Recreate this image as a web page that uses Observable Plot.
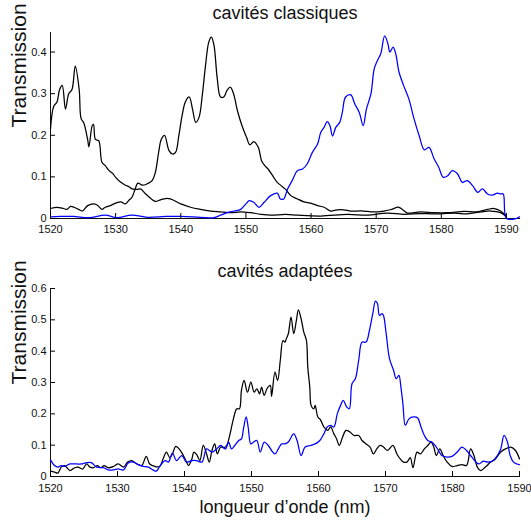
<!DOCTYPE html>
<html><head><meta charset="utf-8">
<script src="https://cdn.jsdelivr.net/npm/d3@7"></script>
<script src="https://cdn.jsdelivr.net/npm/@observablehq/plot@0.6"></script>
<style>
html,body{margin:0;padding:0;background:#fff;}
#chart svg{display:block;}
</style></head><body><div id="chart"></div>
<script>
// ---- tick labels and text ----
const xTicks = [1520, 1530, 1540, 1550, 1560, 1570, 1580, 1590];
const yTicksTop = [0, 0.1, 0.2, 0.3, 0.4];
const yTicksBottom = [0, 0.1, 0.2, 0.3, 0.4, 0.5, 0.6];
const titleTop = "cavités classiques";
const titleBottom = "cavités adaptées";
const yLabel = "Transmission";
const xLabel = "longueur d\u2019onde (nm)";

// ---- top panel: cavités classiques [wavelength nm, transmission] ----
const classiqueNoirA = [[1520,0.215],[1520.5,0.27],[1521.0,0.28],[1521.4,0.31],[1521.8,0.32],[1522.3,0.263],[1522.8,0.30],[1523.3,0.31],[1523.8,0.366],[1524.4,0.31],[1524.7,0.24],[1525.1,0.23],[1525.7,0.19],[1525.9,0.172],[1526.4,0.223],[1526.6,0.226],[1526.9,0.19],[1527.4,0.187],[1527.9,0.135],[1528.4,0.127],[1529.0,0.115],[1529.5,0.109],[1530.0,0.099],[1530.8,0.087],[1531.5,0.08],[1532.0,0.077],[1532.5,0.071],[1533.3,0.07],[1533.8,0.071],[1534.6,0.059],[1535.4,0.048],[1536.1,0.041],[1536.9,0.045],[1537.7,0.048],[1538.4,0.047],[1540,0.035],[1541.5,0.027],[1543,0.022],[1544.6,0.018],[1546.1,0.016],[1547.7,0.014],[1549.2,0.016],[1550.7,0.014],[1552.3,0.010],[1553.8,0.008],[1556.1,0.01],[1558,0.008],[1561.5,0.006],[1565.6,0.010],[1568.6,0.008],[1571.7,0.013],[1574.3,0.010],[1576.8,0.012],[1578.9,0.011],[1582,0.013],[1584,0.011],[1586.1,0.016],[1587.6,0.018],[1589.1,0.014],[1590,0.004]];
const classiqueNoirB = [[1520,0.024],[1521,0.027],[1522,0.024],[1522.5,0.022],[1523.1,0.029],[1523.6,0.027],[1524.3,0.022],[1524.9,0.018],[1525.7,0.031],[1526.7,0.035],[1527.2,0.032],[1527.9,0.022],[1528.4,0.027],[1529.2,0.031],[1530.0,0.037],[1530.8,0.040],[1531.5,0.035],[1532.0,0.043],[1532.5,0.051],[1533.0,0.071],[1533.4,0.085],[1534.1,0.080],[1534.8,0.083],[1535.6,0.091],[1536.1,0.111],[1536.6,0.159],[1537.0,0.19],[1537.5,0.20],[1538.2,0.163],[1538.7,0.155],[1539.2,0.159],[1539.7,0.199],[1540.2,0.247],[1540.7,0.28],[1541.3,0.292],[1541.8,0.263],[1542.3,0.231],[1542.8,0.243],[1543.3,0.296],[1543.8,0.368],[1544.3,0.424],[1544.7,0.436],[1545.1,0.416],[1545.6,0.336],[1546.1,0.292],[1546.6,0.292],[1547.1,0.308],[1547.6,0.316],[1548.1,0.30],[1548.7,0.259],[1549.4,0.223],[1550.1,0.195],[1550.6,0.177],[1551.2,0.185],[1551.9,0.171],[1552.4,0.139],[1552.9,0.127],[1553.4,0.119],[1554.1,0.103],[1554.8,0.087],[1555.4,0.079],[1556.1,0.07],[1556.9,0.055],[1557.9,0.047],[1558.9,0.040],[1559.9,0.037],[1561,0.031],[1562,0.027],[1563,0.018],[1564,0.021],[1565,0.021],[1566.1,0.018],[1567.1,0.018],[1568.1,0.018],[1569.2,0.016],[1570.2,0.016],[1571.2,0.018],[1572.2,0.021],[1573.5,0.027],[1574.3,0.018],[1574.8,0.013],[1576.8,0.016],[1578.9,0.014],[1581,0.014],[1583.5,0.017],[1585.5,0.016],[1587.1,0.022],[1588.1,0.024],[1589.1,0.018],[1590,0.006]];
const classiqueBleu = [[1520,0.004],[1521.5,0.005],[1523.5,0.005],[1526,0.002],[1528.4,0.008],[1530.2,0.002],[1532.5,0.008],[1534.9,0.003],[1537.7,0.005],[1540,0.005],[1543,0.003],[1545.1,0.002],[1546.1,0.008],[1547.1,0.014],[1548.2,0.018],[1549.2,0.022],[1550,0.035],[1550.5,0.043],[1551.2,0.039],[1552,0.027],[1552.8,0.039],[1553.8,0.055],[1554.8,0.061],[1555.3,0.047],[1555.8,0.047],[1556.4,0.071],[1557.1,0.091],[1557.9,0.115],[1558.7,0.119],[1559.4,0.131],[1560.2,0.159],[1561,0.179],[1561.5,0.207],[1562,0.219],[1562.5,0.233],[1562.9,0.223],[1563.3,0.198],[1563.8,0.219],[1564.4,0.231],[1564.8,0.255],[1565.3,0.292],[1566.1,0.297],[1566.7,0.276],[1567.4,0.255],[1568.0,0.223],[1568.5,0.263],[1569.2,0.30],[1569.7,0.36],[1570.2,0.38],[1570.7,0.396],[1571.3,0.439],[1571.8,0.42],[1572.1,0.40],[1572.6,0.412],[1573.0,0.396],[1573.5,0.352],[1574.2,0.32],[1575.0,0.288],[1575.8,0.24],[1576.6,0.199],[1577.4,0.165],[1578.1,0.171],[1578.9,0.143],[1579.6,0.123],[1580.3,0.099],[1581,0.103],[1581.7,0.115],[1582.5,0.107],[1583.2,0.087],[1584,0.091],[1584.8,0.079],[1585.6,0.063],[1586.3,0.071],[1587.1,0.059],[1587.8,0.056],[1588.6,0.061],[1589.1,0.059],[1589.5,0.059],[1590,0.0],[1591.5,0.0],[1592,0.004]];

// ---- bottom panel: cavités adaptées ----
const adapteeNoir = [[1520,0.017],[1520.6,0.014],[1521.1,0.011],[1521.6,0.030],[1522.1,0.035],[1522.9,0.019],[1523.6,0.028],[1524.1,0.030],[1524.8,0.024],[1525.4,0.040],[1525.9,0.030],[1526.4,0.028],[1527,0.035],[1527.5,0.028],[1528,0.035],[1528.6,0.028],[1529.4,0.032],[1530.1,0.040],[1530.9,0.030],[1531.5,0.046],[1532.1,0.051],[1532.9,0.040],[1533.6,0.035],[1534.3,0.064],[1534.8,0.040],[1535.6,0.032],[1536.3,0.032],[1536.8,0.056],[1537.3,0.078],[1537.8,0.060],[1538.2,0.072],[1538.7,0.096],[1539.2,0.088],[1539.7,0.072],[1540.2,0.051],[1540.6,0.035],[1541.1,0.056],[1541.4,0.078],[1541.9,0.067],[1542.3,0.051],[1542.8,0.099],[1543.3,0.072],[1543.7,0.046],[1544.1,0.083],[1544.5,0.104],[1544.9,0.072],[1545.4,0.094],[1545.9,0.092],[1546.3,0.099],[1546.8,0.136],[1547.3,0.184],[1547.8,0.216],[1548.2,0.216],[1548.5,0.275],[1548.9,0.307],[1549.4,0.269],[1549.9,0.301],[1550.4,0.269],[1550.8,0.28],[1551.2,0.264],[1551.5,0.285],[1551.9,0.259],[1552.3,0.28],[1552.8,0.291],[1553.0,0.256],[1553.5,0.333],[1553.9,0.307],[1554.3,0.371],[1554.7,0.434],[1555.0,0.429],[1555.2,0.44],[1555.5,0.456],[1555.9,0.509],[1556.3,0.456],[1556.7,0.498],[1557.0,0.532],[1557.4,0.504],[1557.8,0.461],[1558.2,0.434],[1558.4,0.349],[1558.7,0.285],[1558.9,0.227],[1559.3,0.216],[1559.5,0.227],[1559.9,0.19],[1560.3,0.181],[1560.8,0.158],[1561.4,0.147],[1561.8,0.158],[1562.3,0.136],[1562.7,0.12],[1563.1,0.099],[1563.6,0.126],[1564.1,0.147],[1564.7,0.142],[1565.3,0.131],[1566.0,0.131],[1566.5,0.115],[1567.1,0.104],[1567.7,0.094],[1568.2,0.072],[1568.7,0.088],[1569.2,0.099],[1569.7,0.094],[1570.3,0.083],[1571.1,0.099],[1571.7,0.072],[1572.2,0.056],[1572.7,0.046],[1573.2,0.046],[1573.7,0.060],[1574.1,0.028],[1574.7,0.078],[1575.2,0.072],[1575.8,0.088],[1576.3,0.099],[1576.8,0.110],[1577.2,0.094],[1577.6,0.067],[1578.1,0.088],[1578.6,0.067],[1579.2,0.046],[1579.9,0.032],[1580.7,0.035],[1581.4,0.038],[1582.1,0.035],[1582.7,0.088],[1583.2,0.067],[1583.7,0.030],[1584.2,0.019],[1584.9,0.030],[1585.7,0.046],[1586.4,0.056],[1587.2,0.078],[1587.9,0.088],[1588.7,0.094],[1589.4,0.083],[1590,0.056]];
const adapteeBleu = [[1520,0.053],[1520.6,0.035],[1521.1,0.030],[1521.6,0.035],[1522.1,0.032],[1522.9,0.040],[1523.9,0.040],[1524.6,0.040],[1525.4,0.044],[1526.1,0.044],[1526.9,0.030],[1527.9,0.028],[1528.6,0.021],[1529.4,0.021],[1530.1,0.024],[1530.9,0.021],[1531.6,0.043],[1532.4,0.046],[1533.1,0.038],[1533.9,0.032],[1534.6,0.030],[1535.3,0.021],[1535.8,0.017],[1536.3,0.032],[1537.1,0.051],[1537.6,0.046],[1538.2,0.075],[1538.8,0.051],[1539.6,0.067],[1540.3,0.046],[1541.1,0.051],[1541.8,0.051],[1542.6,0.046],[1543.3,0.088],[1544.1,0.078],[1544.8,0.088],[1545.4,0.099],[1546.1,0.088],[1546.6,0.110],[1547.0,0.088],[1547.5,0.099],[1548.1,0.115],[1548.5,0.120],[1548.8,0.152],[1549.2,0.19],[1549.5,0.158],[1549.9,0.104],[1550.3,0.110],[1550.8,0.115],[1551.3,0.078],[1551.9,0.110],[1552.5,0.099],[1553.0,0.083],[1553.5,0.072],[1554.0,0.088],[1554.5,0.104],[1555.0,0.104],[1555.5,0.110],[1556.3,0.136],[1556.8,0.115],[1557.4,0.067],[1558.0,0.094],[1558.8,0.099],[1559.5,0.104],[1560.2,0.115],[1560.8,0.136],[1561.3,0.158],[1561.8,0.163],[1562.3,0.158],[1562.8,0.20],[1563.3,0.227],[1563.7,0.243],[1564.2,0.222],[1564.6,0.216],[1565.0,0.296],[1565.5,0.312],[1566.0,0.371],[1566.5,0.429],[1567.1,0.429],[1567.6,0.466],[1568.1,0.52],[1568.5,0.56],[1568.8,0.552],[1569.1,0.514],[1569.5,0.52],[1569.7,0.514],[1570.1,0.456],[1570.6,0.376],[1571.2,0.339],[1571.6,0.312],[1572.0,0.323],[1572.3,0.285],[1572.6,0.232],[1572.96,0.163],[1573.5,0.184],[1574.2,0.19],[1574.8,0.187],[1575.3,0.158],[1575.8,0.131],[1576.3,0.115],[1576.9,0.110],[1577.4,0.099],[1577.9,0.083],[1578.4,0.067],[1579.2,0.062],[1579.9,0.064],[1580.7,0.078],[1581.4,0.094],[1582.1,0.083],[1582.7,0.067],[1583.3,0.051],[1583.9,0.040],[1584.6,0.049],[1585.3,0.046],[1586.1,0.051],[1586.7,0.067],[1587.2,0.088],[1587.7,0.131],[1588.2,0.110],[1588.6,0.067],[1589.1,0.046],[1589.6,0.040],[1590,0.038]];

const FONT = "'Liberation Sans', Arial, Helvetica, sans-serif";
const W = 531, ML = 50, MR = 12;

function panel({series, xDomain, yDomain, yTicks, height, marginTop, marginBottom, title, titleDy, withXLabel, xPad}) {
  const frameH = height - marginTop - marginBottom;
  const frameW = W - ML - MR;
  const marks = [];
  for (const s of series) {
    marks.push(Plot.line(s.data, {x: d => d[0], y: d => d[1], stroke: s.color, strokeWidth: 1.25, curve: "catmull-rom"}));
  }
  marks.push(Plot.tickX(xTicks, {x: d => d, insetTop: frameH - 5, stroke: "#000", strokeWidth: 1}));
  marks.push(Plot.tickY(yTicks, {y: d => d, insetRight: frameW - 5, stroke: "#000", strokeWidth: 1}));
  marks.push(Plot.text([title], {frameAnchor: "top", lineAnchor: "bottom", dy: titleDy, fontSize: 18, fill: "#111"}));
  marks.push(Plot.text([yLabel], {frameAnchor: "left", rotate: -90, dx: -31, dy: 2, fontSize: 21, fill: "#111"}));
  if (withXLabel) marks.push(Plot.text([xLabel], {frameAnchor: "bottom", lineAnchor: "bottom", dy: 36, fontSize: 18, fill: "#111"}));
  return Plot.plot({
    width: W, height, marginLeft: ML, marginRight: MR, marginTop, marginBottom,
    style: {fontFamily: FONT, fontSize: "11px", color: "#111", background: "#fff", overflow: "visible"},
    x: {domain: xDomain, ticks: xTicks, tickSize: 0, tickPadding: xPad, tickFormat: d => String(d), line: true, label: null},
    y: {domain: yDomain, ticks: yTicks, tickSize: 0, tickPadding: 4, tickFormat: d => String(d), line: true, label: null},
    marks
  });
}

const topPanel = panel({
  series: [{data: classiqueNoirA, color: "#000"}, {data: classiqueNoirB, color: "#000"}, {data: classiqueBleu, color: "#0000ff"}],
  xDomain: [1520, 1592], yDomain: [0, 0.447], yTicks: yTicksTop,
  height: 250, marginTop: 32, marginBottom: 32, title: titleTop, titleDy: -14, withXLabel: false, xPad: 7
});
const bottomPanel = panel({
  series: [{data: adapteeNoir, color: "#000"}, {data: adapteeBleu, color: "#0000ff"}],
  xDomain: [1520, 1590], yDomain: [0, 0.6], yTicks: yTicksBottom,
  height: 276, marginTop: 38, marginBottom: 50, title: titleBottom, titleDy: -12, withXLabel: true, xPad: 8
});
const el = document.getElementById("chart");
el.appendChild(topPanel);
el.appendChild(bottomPanel);
</script></body></html>
